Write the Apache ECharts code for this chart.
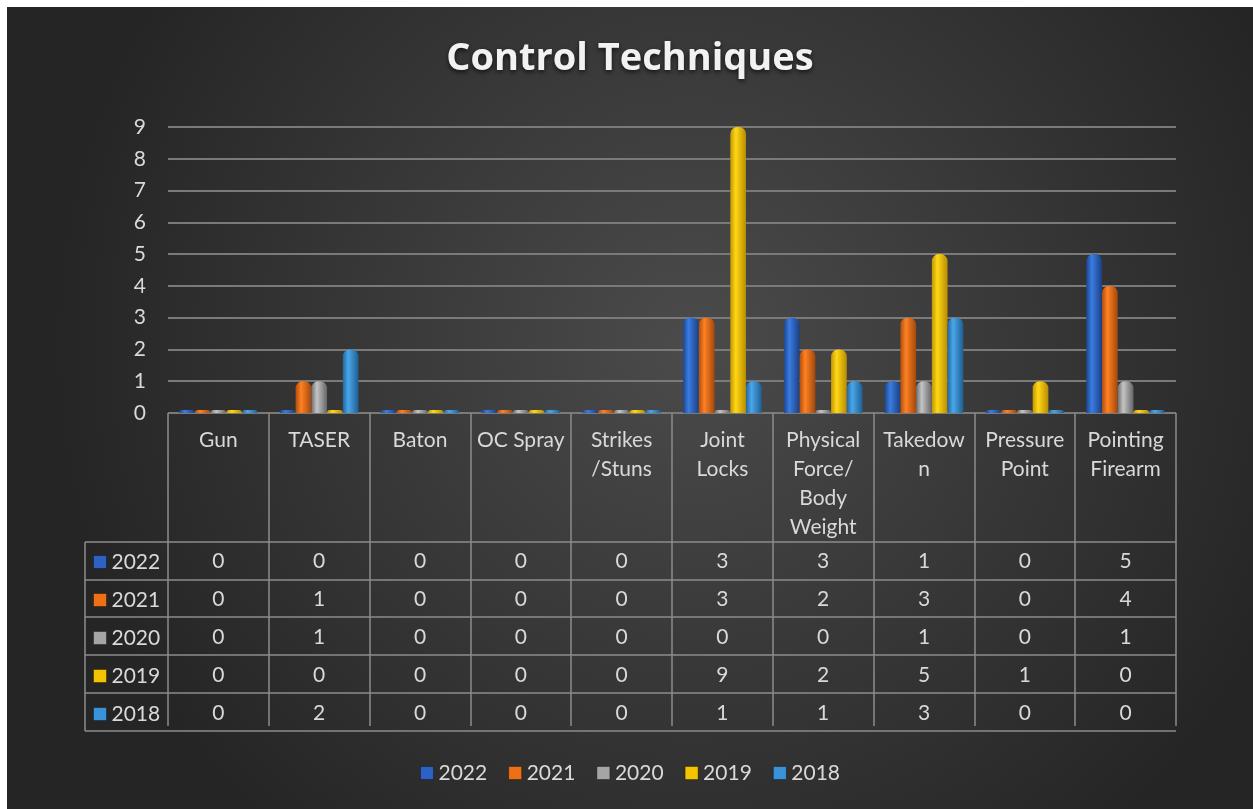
<!DOCTYPE html>
<html>
<head>
<meta charset="utf-8">
<title>Control Techniques</title>
<script src="https://cdn.jsdelivr.net/npm/echarts@6/dist/echarts.min.js"></script>
<style>
  body { margin: 0; background: #fff; }
  #main { position: absolute; left: 7px; top: 7px; width: 1246px; height: 802px; }
</style>
</head>
<body>
<div id="main"></div>
<script>
var categories = ['Gun', 'TASER', 'Baton', 'OC Spray', 'Strikes\n/Stuns', 'Joint\nLocks',
    'Physical\nForce/\nBody\nWeight', 'Takedow\nn', 'Pressure\nPoint', 'Pointing\nFirearm'];
var years = ['2022', '2021', '2020', '2019', '2018'];
var v2022 = [0, 0, 0, 0, 0, 3, 3, 1, 0, 5];
var v2021 = [0, 1, 0, 0, 0, 3, 2, 3, 0, 4];
var v2020 = [0, 1, 0, 0, 0, 0, 0, 1, 0, 1];
var v2019 = [0, 0, 0, 0, 0, 9, 2, 5, 1, 0];
var v2018 = [0, 2, 0, 0, 0, 1, 1, 3, 0, 0];
var yTicks = [0, 1, 2, 3, 4, 5, 6, 7, 8, 9];

var seriesValues = [v2022, v2021, v2020, v2019, v2018];
// dark edge, light middle, dark edge - cylinder look
var colors = [
    ['#1d4690', '#3b7ce0', '#1a3f85'],
    ['#b04f0c', '#ff8124', '#a3480a'],
    ['#6e6e6e', '#c4c4c4', '#666666'],
    ['#c49600', '#ffd817', '#b88c00'],
    ['#21689e', '#4aa6ea', '#1e5f92']
];
var keyColors = ['#2d62c2', '#ee7016', '#a5a5a5', '#f5c400', '#3a93d8'];
var txt = '#d9d9d9';
var font = 'Lato';
var fs = 21;

function cyl(c) {
    return new echarts.graphic.LinearGradient(0, 0, 1, 0, [
        {offset: 0, color: c[0]},
        {offset: 0.35, color: c[1]},
        {offset: 1, color: c[2]}
    ]);
}

var chart = echarts.init(document.getElementById('main'));

var series = years.map(function (y, i) {
    return {
        name: y,
        type: 'bar',
        data: seriesValues[i],
        barGap: '0%',
        barCategoryGap: '22%',
        barMinHeight: 3,
        itemStyle: {color: cyl(colors[i]), borderRadius: [7, 7, 0, 0]}
    };
});

var legendData = years.map(function (y, i) {
    return {name: y, itemStyle: {color: keyColors[i], borderColor: 'rgba(0,0,0,0.35)', borderWidth: 1}};
});

// table lines below the plot
var rowYs = [535, 573, 610, 648, 686, 724];
var graphics = rowYs.map(function (y) {
    return {type: 'line', shape: {x1: 78, y1: y, x2: 1169, y2: y}, style: {stroke: '#8c8c8c', lineWidth: 1.5}};
});
graphics.push({type: 'line', shape: {x1: 78, y1: 535, x2: 78, y2: 724}, style: {stroke: '#8c8c8c', lineWidth: 1.5}});

var option = {
    backgroundColor: {
        type: 'radial', x: 0.55, y: 0.42, r: 0.8,
        colorStops: [{offset: 0, color: '#4b4b4b'}, {offset: 1, color: '#252525'}]
    },
    textStyle: {fontFamily: font},
    title: {
        text: 'Control Techniques',
        left: 'center',
        top: 28,
        textStyle: {
            color: '#f2f2f2', fontSize: 38, fontWeight: 'bold', fontFamily: 'Open Sans',
            textShadowColor: 'rgba(0,0,0,0.7)', textShadowBlur: 5, textShadowOffsetY: 2
        }
    },
    legend: [{
        data: legendData,
        bottom: 25,
        left: 'center',
        padding: 0,
        itemWidth: 13, itemHeight: 13, itemGap: 21, itemTextGap: 6,
        icon: 'rect',
        textStyle: {color: txt, fontSize: fs, fontFamily: font, lineHeight: 22}
    }, {
        data: legendData,
        orient: 'vertical',
        left: 86,
        top: 544,
        padding: 0,
        itemWidth: 13, itemHeight: 13, itemGap: 16, itemTextGap: 7,
        icon: 'rect',
        textStyle: {color: txt, fontSize: fs, fontFamily: font, lineHeight: 22}
    }],
    grid: {left: 161, right: 77, top: 120, bottom: 396},
    xAxis: {
        type: 'category',
        data: categories,
        offset: 5,
        axisLine: {show: false},
        axisTick: {show: true, length: 313, lineStyle: {color: '#8c8c8c', width: 1.5}},
        axisLabel: {
            interval: 0,
            margin: 8,
            color: txt,
            formatter: function (val, idx) {
                var lines = val.split('\n');
                while (lines.length < 4) lines.push(' ');
                var out = lines.map(function (l) { return '{h|' + l + '}'; });
                seriesValues.forEach(function (arr) { out.push('{v|' + arr[idx] + '}'); });
                return out.join('\n');
            },
            rich: {
                h: {color: txt, fontSize: fs, fontFamily: font, lineHeight: 29, align: 'center'},
                v: {color: txt, fontSize: fs, fontFamily: font, lineHeight: 38, align: 'center'}
            }
        }
    },
    yAxis: {
        type: 'value',
        min: 0, max: 9, interval: 1,
        axisLine: {show: false},
        axisTick: {show: false},
        axisLabel: {
            margin: 22, color: txt, fontSize: fs, fontFamily: font,
            formatter: function (v) { return yTicks.indexOf(v) >= 0 ? String(v) : ''; }
        },
        splitLine: {lineStyle: {color: '#7a7a7a', width: 2}}
    },
    graphic: graphics,
    series: series
};

chart.setOption(option);
window.onresize = chart.resize;
</script>
</body>
</html>
